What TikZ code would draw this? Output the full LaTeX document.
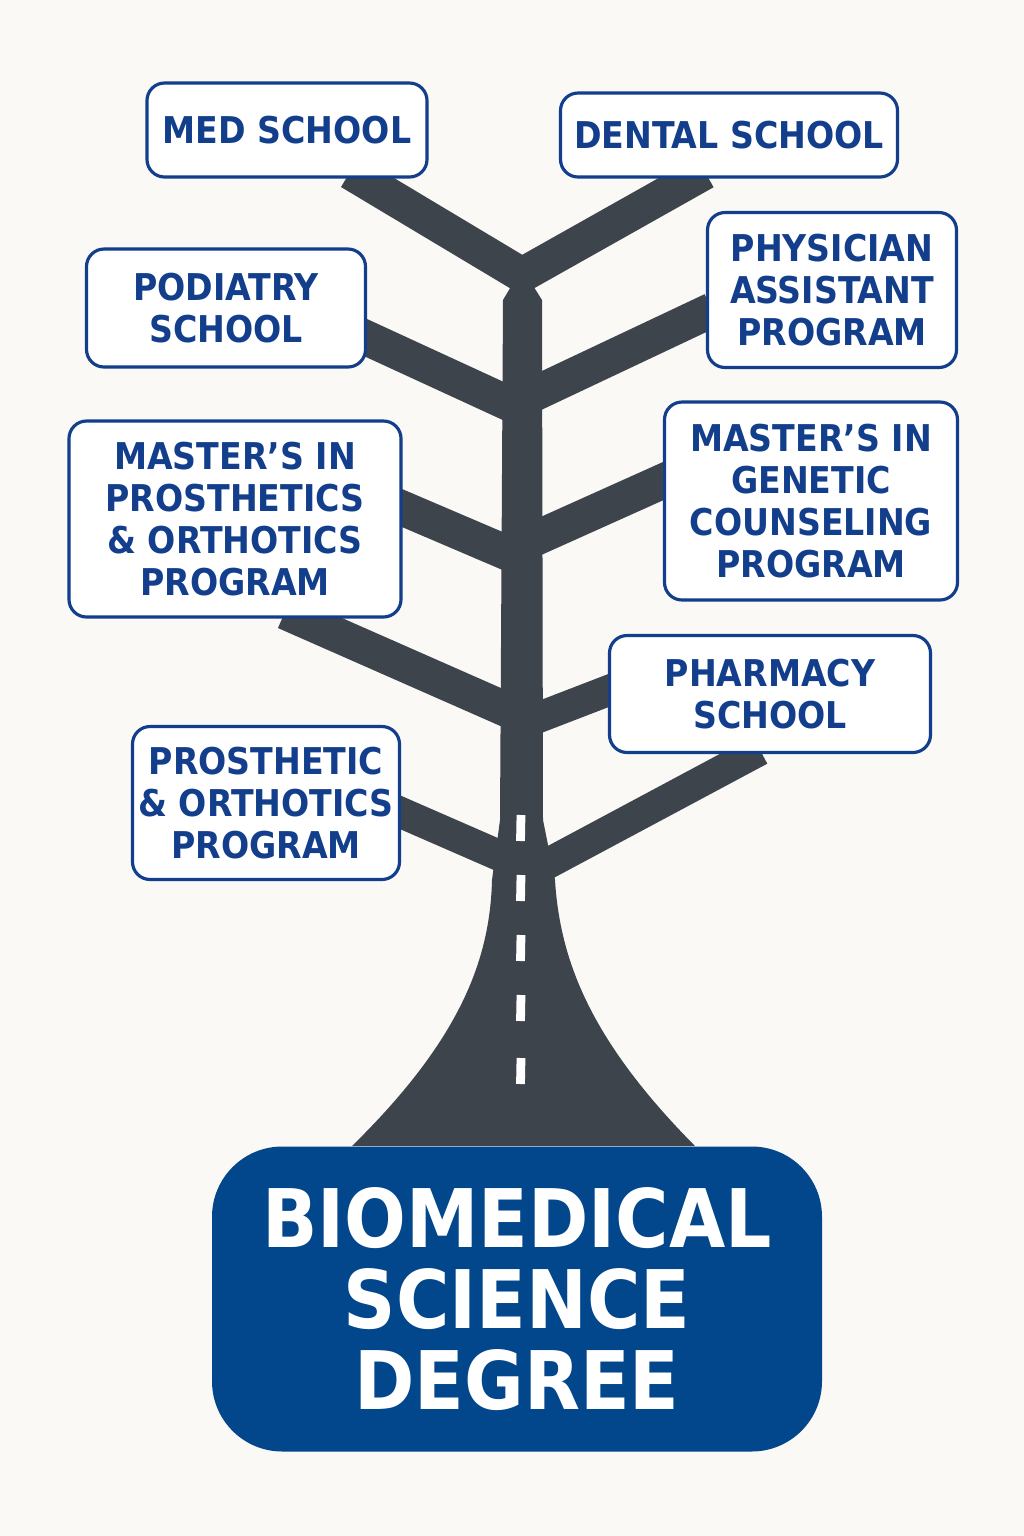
\documentclass[tikz,border=0pt]{standalone}
\usepackage{fontspec}
\setmainfont{DejaVu Sans Condensed}
\definecolor{paper}{RGB}{250,249,246}
\definecolor{road}{RGB}{62,68,76}
\definecolor{navy}{RGB}{18,62,140}
\definecolor{deep}{RGB}{2,70,140}
\tikzset{
  school/.style={draw=navy,line width=1.8pt,fill=white,rounded corners=10pt,
    text=navy,font=\bfseries\fontsize{21}{24}\selectfont,align=center,inner sep=0pt},
  limb/.style={road,line width=0.7cm},
  twig/.style={road,line width=0.62cm}
}
\begin{document}
\begin{tikzpicture}[x=0.02cm,y=-0.02cm]
\fill[paper] (0,0) rectangle (1024,1536);
\useasboundingbox (0,0) rectangle (1024,1536);
% trunk
\fill[road] (352,1146) .. controls (460,1040) and (490,960) .. (492,880)
  -- (500,820) -- (503,300) -- (522,268) -- (542,300) -- (543,820) -- (555,880)
  .. controls (560,960) and (590,1040) .. (695,1146) -- cycle;
% branches
\draw[limb] (350,172) -- (522,275);
\draw[limb] (705,172) -- (522,275);
\draw[limb] (360,335) -- (512,405);
\draw[limb] (712,310) -- (532,395);
\draw[limb] (395,505) -- (512,555);
\draw[limb] (670,478) -- (532,540);
\draw[limb] (285,612) -- (512,712);
\draw[twig] (615,688) -- (532,720);
\draw[twig] (760,750) -- (545,865);
\draw[twig] (395,810) -- (505,858);
% road marks
\foreach \y in {815,875,935,995,1058}
  \draw[white,line width=5pt] (521,\y) -- (520.5,\y+26);
% boxes
\node[school,minimum width=280*0.02cm,minimum height=94*0.02cm] (med) at (287,130) {MED SCHOOL};
\node[school,minimum width=337*0.02cm,minimum height=84*0.02cm] (dental) at (729,135) {DENTAL SCHOOL};
\node[school,minimum width=279*0.02cm,minimum height=118*0.02cm] (podiatry) at (226,308) {PODIATRY\\SCHOOL};
\node[school,minimum width=249*0.02cm,minimum height=155*0.02cm] (pa) at (832,290) {PHYSICIAN\\ASSISTANT\\PROGRAM};
\node[school,minimum width=332*0.02cm,minimum height=196*0.02cm] (mpo) at (235,519) {MASTER’S IN\\PROSTHETICS\\\& ORTHOTICS\\PROGRAM};
\node[school,minimum width=293*0.02cm,minimum height=198*0.02cm] (genetic) at (811,501) {MASTER’S IN\\GENETIC\\COUNSELING\\PROGRAM};
\node[school,minimum width=321*0.02cm,minimum height=117*0.02cm] (pharmacy) at (770,694) {PHARMACY\\SCHOOL};
\node[school,minimum width=267*0.02cm,minimum height=153*0.02cm] (po) at (266,803) {PROSTHETIC\\\& ORTHOTICS\\PROGRAM};
\node[fill=deep,rounded corners=40pt,minimum width=610*0.02cm,minimum height=305*0.02cm,
  text=white,font=\bfseries\fontsize{46}{46}\selectfont,align=center] (degree) at (517,1299)
  {BIOMEDICAL\\SCIENCE\\DEGREE};
\end{tikzpicture}
\end{document}
